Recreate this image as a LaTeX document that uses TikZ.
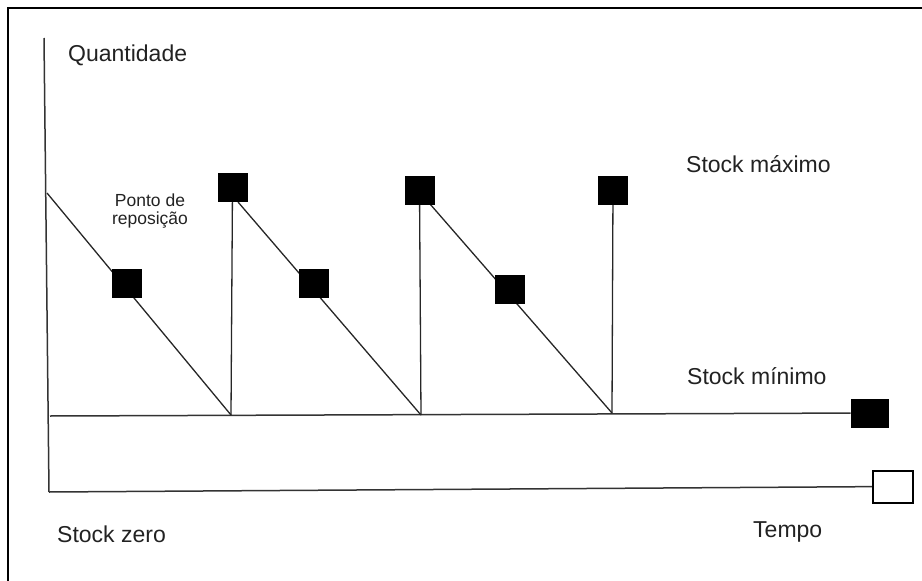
\documentclass[tikz,border=0pt]{standalone}
\usepackage{fontspec}
\setmainfont{Liberation Sans}
\usetikzlibrary{backgrounds}
\definecolor{ink}{HTML}{222222}
\tikzset{
  sq/.style={fill=black, draw=black, line width=0.6pt, minimum width=29pt, minimum height=28pt, inner sep=0pt},
  sqbig/.style={fill=black, draw=black, line width=0.6pt, minimum width=37pt, minimum height=28pt, inner sep=0pt},
  sqwhite/.style={fill=white, draw=black, line width=2pt, minimum width=40pt, minimum height=32pt, inner sep=0pt},
  ln/.style={draw=black!85, line width=1.3pt},
  axis/.style={draw=black!80, line width=1.5pt},
  lbl/.style={text=ink, inner sep=0pt, anchor=base west, font=\fontsize{23}{27}\selectfont},
  small/.style={text=ink, inner sep=0pt, align=center, font=\fontsize{17.5}{18}\selectfont}
}
\begin{document}
\begin{tikzpicture}[x=1pt, y=-1pt]
\useasboundingbox (0,0) rectangle (922,581);
% frame
\draw[line width=2pt, black] (8,581) -- (8,8) -- (922,8);

% squares
\node[sq] (s1) at (126.5,283) {};
\node[sq] (s2) at (232.5,187.5) {};
\node[sq] (s3) at (314,283) {};
\node[sq] (s4) at (419.5,190) {};
\node[sq] (s5) at (509.5,289) {};
\node[sq] (s6) at (613,190) {};
\node[sqbig] (minbox) at (869.5,413) {};
\node[sqwhite] (zerobox) at (893,486.5) {};

% coordinates
\coordinate (ytop) at (44,38);
\coordinate (o) at (49,492);
\coordinate (m0) at (50,416);
\coordinate (q0) at (47,193);
\coordinate (b1) at (231,415);
\coordinate (t2) at (238,202);
\coordinate (b2) at (421,415);
\coordinate (t3) at (430,204);
\coordinate (b3) at (612,413);

\begin{scope}[on background layer]
\draw[axis] (ytop) -- (o);
\draw[axis] (o) -- (zerobox);
\draw[axis] (m0) -- (minbox);
\draw[ln] (q0) -- (b1);
\draw[ln] (b1) -- (s2);
\draw[ln] (t2) -- (b2);
\draw[ln] (b2) -- (s4);
\draw[ln] (t3) -- (b3);
\draw[ln] (b3) -- (s6);
\end{scope}

% labels
\node[lbl] (lq) at (68,61.5) {Quantidade};
\node[lbl] (lmax) at (686,172) {Stock máximo};
\node[lbl] (lmin) at (687,384) {Stock mínimo};
\node[lbl] (lzero) at (57,542) {Stock zero};
\node[lbl] (ltempo) at (753,537) {Tempo};
\node[small] (lponto) at (150,211.5) {Ponto de\\reposição};
\end{tikzpicture}
\end{document}
